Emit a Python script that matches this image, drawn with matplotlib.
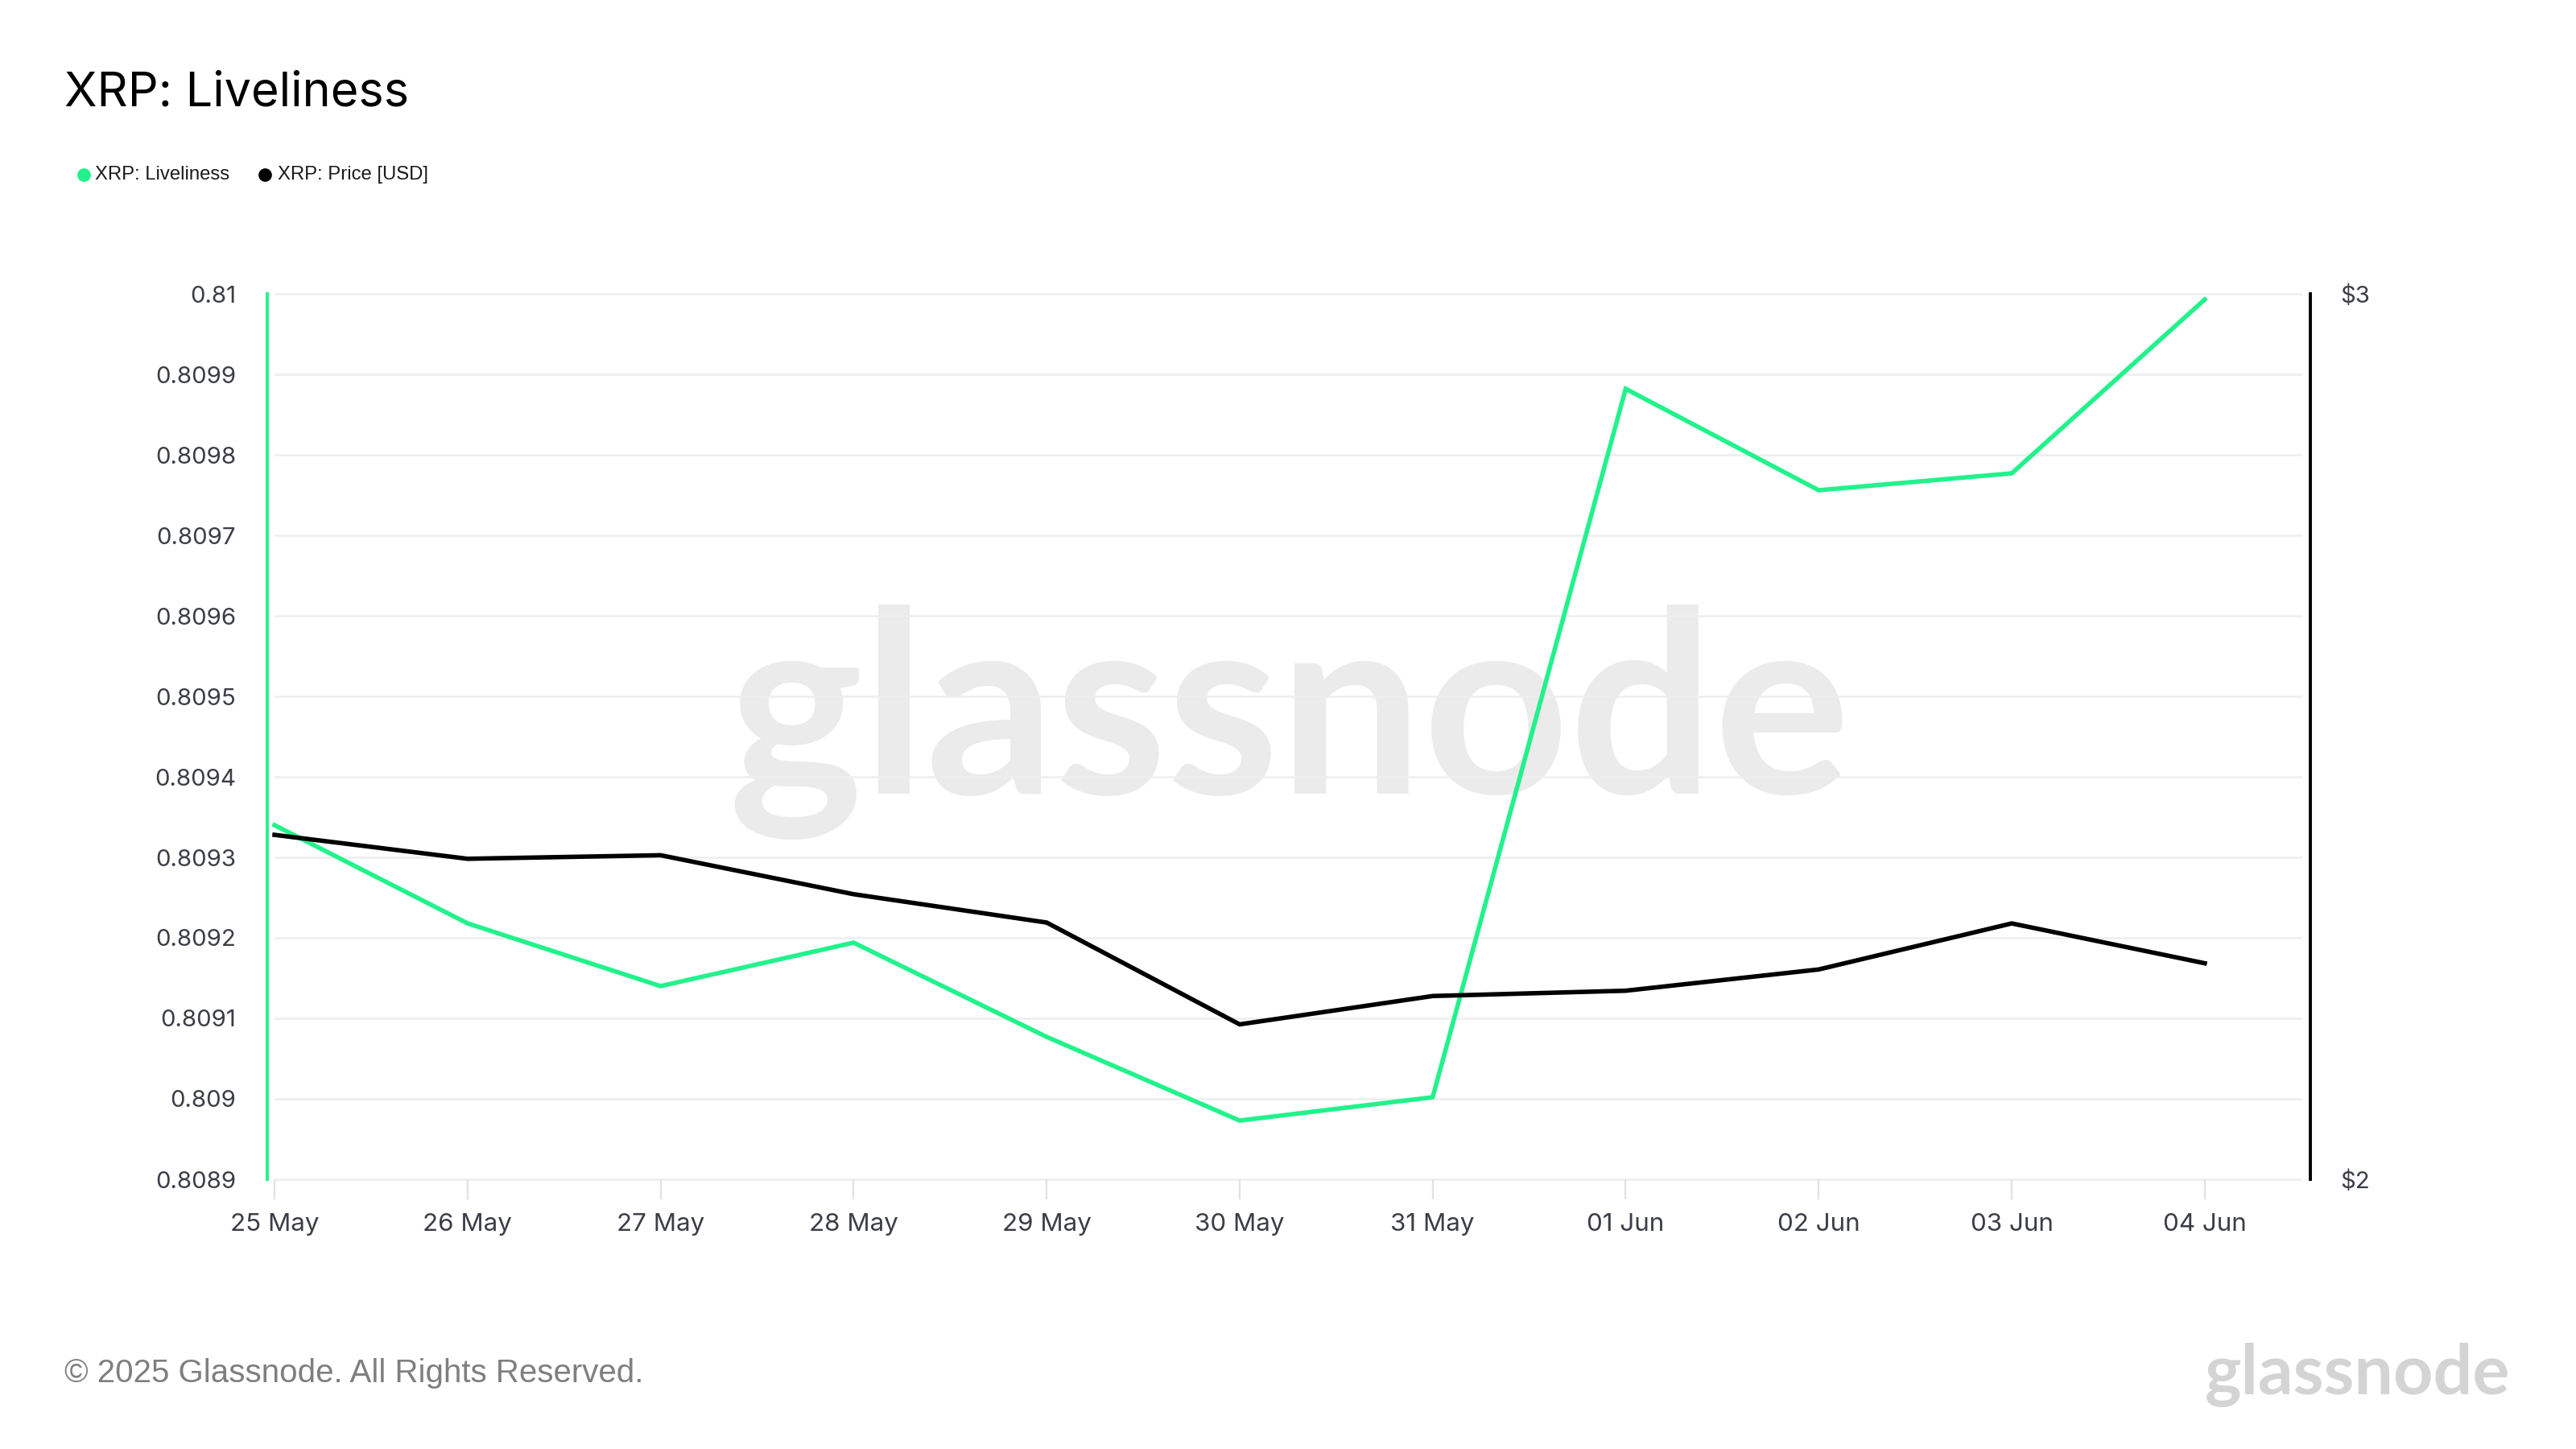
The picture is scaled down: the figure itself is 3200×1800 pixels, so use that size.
import matplotlib
matplotlib.use("Agg")
import matplotlib.pyplot as plt
from matplotlib.lines import Line2D

dates = ["25 May", "26 May", "27 May", "28 May", "29 May", "30 May",
         "31 May", "01 Jun", "02 Jun", "03 Jun", "04 Jun"]
liveliness = [0.80934, 0.809218, 0.80914, 0.809194, 0.809077, 0.808973,
              0.809002, 0.809882, 0.809756, 0.809777, 0.809993]
price = [2.389, 2.362, 2.366, 2.322, 2.290, 2.175, 2.207, 2.213, 2.237, 2.289, 2.244]

live_ticks = [0.8089, 0.809, 0.8091, 0.8092, 0.8093, 0.8094, 0.8095,
              0.8096, 0.8097, 0.8098, 0.8099, 0.81]
live_labels = ["0.8089", "0.809", "0.8091", "0.8092", "0.8093", "0.8094",
               "0.8095", "0.8096", "0.8097", "0.8098", "0.8099", "0.81"]
price_ticks = [2, 3]
price_labels = ["$2", "$3"]

GREEN = "#22f28b"
LABEL = "#3b3e46"
GRID = "#eeeeee"
FONT = ["Inter", "DejaVu Sans"]

W, H = 3200, 1800
fig = plt.figure(figsize=(16, 9), dpi=200)
fig.patch.set_facecolor("white")

x0, x1, y0, y1 = 332, 2870, 365, 1465
ax = fig.add_axes([x0 / W, 1 - y1 / H, (x1 - x0) / W, (y1 - y0) / H])
ax.set_facecolor("none")
ax2 = ax.twinx()

xs = list(range(len(dates)))
ax.plot(xs, liveliness, color=GREEN, lw=2.0, zorder=3, solid_joinstyle="miter")
ax2.plot(xs, price, color="black", lw=2.0, zorder=3, solid_joinstyle="miter")

ax.set_xlim(-0.0376, 10.547)
ax.set_ylim(0.8089, 0.81)
ax2.set_ylim(2, 3)

# gridlines
for t in live_ticks:
    ax.axhline(t, xmin=10 / (x1 - x0), xmax=(2858 - x0) / (x1 - x0),
               color=GRID, lw=0.9, zorder=1, clip_on=False)

ax.set_yticks(live_ticks)
ax.set_yticklabels(live_labels)
ax.tick_params(axis="y", length=0, pad=14, labelsize=10.6, labelcolor=LABEL)
ax.set_xticks(xs)
ax.set_xticklabels(dates)
ax.tick_params(axis="x", length=9, width=0.8, color="#e2e2e2", pad=6,
               labelsize=11.3, labelcolor=LABEL)
ax2.set_yticks(price_ticks)
ax2.set_yticklabels(price_labels)
ax2.tick_params(axis="y", length=0, pad=13.5, labelsize=10.6, labelcolor=LABEL)

for a in (ax, ax2):
    for lab in a.get_xticklabels() + a.get_yticklabels():
        lab.set_family(FONT)

for s in ("top", "bottom", "right"):
    ax.spines[s].set_visible(False)
ax.spines["left"].set_color(GREEN)
ax.spines["left"].set_linewidth(1.4)
for s in ("top", "bottom", "left"):
    ax2.spines[s].set_visible(False)
ax2.spines["right"].set_color("black")
ax2.spines["right"].set_linewidth(1.4)

# watermark
ax.text(1601 / W, 1 - 986 / H, "glassnode", transform=fig.transFigure,
        ha="center", va="baseline", fontsize=114, color="#ebebeb",
        family=["Lato", "DejaVu Sans"], fontweight="bold", zorder=0)

# title
fig.text(80 / W, 1 - 131 / H, "XRP: Liveliness", ha="left", va="baseline",
         fontsize=21.4, color="black", family=FONT)

# legend
ly = 1 - 217 / H
fig.add_artist(Line2D([104 / W], [ly], marker="o", markersize=5,
                      color=GREEN, transform=fig.transFigure, lw=0))
fig.text(118 / W, ly, "XRP: Liveliness", ha="left", va="center",
         fontsize=8.6, color="#1a1a1a", family=["Liberation Sans", "DejaVu Sans"])
fig.add_artist(Line2D([329 / W], [ly], marker="o", markersize=5,
                      color="black", transform=fig.transFigure, lw=0))
fig.text(345 / W, ly, "XRP: Price [USD]", ha="left", va="center",
         fontsize=8.6, color="#1a1a1a", family=["Liberation Sans", "DejaVu Sans"])

# footer
fig.text(80 / W, 1 - 1706 / H, "\u00a9 2025 Glassnode. All Rights Reserved.",
         ha="left", va="center", fontsize=14.5, color="#7f7f7f",
         family=["Liberation Sans", "DejaVu Sans"])
fig.text(3118 / W, 1 - 1708 / H, "glassnode", ha="right", va="center",
         fontsize=31, color="#d4d4d4", family=["Lato", "DejaVu Sans"],
         fontweight="bold")

fig.savefig("out.png", dpi=200, facecolor="white")
